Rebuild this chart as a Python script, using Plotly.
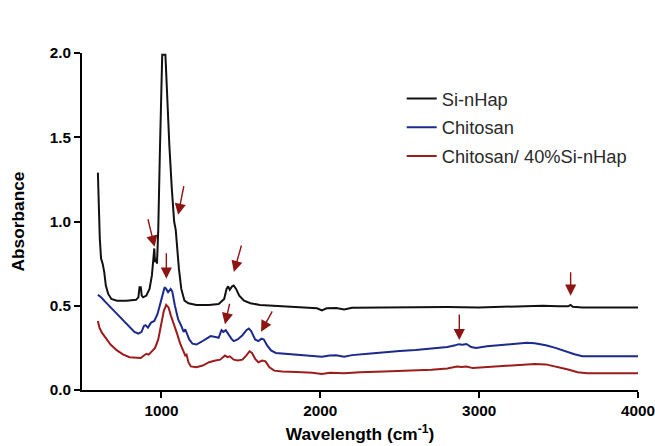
import plotly.graph_objects as go

# Si-nHap
si_x = [600, 605, 612, 620, 630, 640, 650, 665, 685, 720, 780, 840, 855, 862, 870, 876, 885, 905, 925, 940,
        950, 955, 960, 966, 972, 980, 990, 1000, 1005, 1025, 1035, 1050, 1065, 1080, 1090, 1100, 1110, 1125,
        1145, 1170, 1220, 1300, 1360, 1395, 1410, 1420, 1430, 1445, 1455, 1470, 1490, 1520, 1560, 1620, 1700,
        1800, 1900, 1980, 2010, 2040, 2100, 2150, 2200, 2400, 2600, 2800, 3000, 3100, 3250, 3400, 3500, 3560,
        3575, 3590, 3650, 3800, 4000]
si_y = [1.29, 1.10, 0.90, 0.78, 0.75, 0.70, 0.62, 0.57, 0.54, 0.53, 0.53, 0.535, 0.55, 0.61, 0.61, 0.56, 0.55,
        0.56, 0.60, 0.68, 0.82, 0.84, 0.76, 0.78, 0.75, 0.95, 1.40, 1.80, 1.99, 1.99, 1.75, 1.45, 1.20, 1.00,
        0.95, 0.82, 0.72, 0.60, 0.53, 0.515, 0.505, 0.505, 0.51, 0.54, 0.60, 0.615, 0.595, 0.615, 0.62, 0.60,
        0.56, 0.53, 0.515, 0.505, 0.50, 0.495, 0.49, 0.485, 0.472, 0.485, 0.487, 0.478, 0.488, 0.49, 0.49,
        0.492, 0.49, 0.493, 0.498, 0.50, 0.497, 0.497, 0.505, 0.494, 0.49, 0.489, 0.489]

# Chitosan
ch_x = [600, 620, 650, 680, 720, 760, 800, 830, 855, 875, 890, 900, 915, 935, 955, 975, 995, 1010, 1020, 1030,
        1042, 1058, 1068, 1085, 1105, 1125, 1140, 1150, 1160, 1175, 1195, 1220, 1250, 1280, 1310, 1340, 1360,
        1378, 1390, 1405, 1420, 1440, 1455, 1480, 1510, 1535, 1550, 1565, 1590, 1610, 1630, 1645, 1665, 1690,
        1720, 1780, 1850, 1950, 2010, 2060, 2100, 2150, 2200, 2300, 2400, 2500, 2600, 2700, 2800, 2850, 2870,
        2895, 2920, 2950, 2980, 3050, 3150, 3250, 3300, 3350, 3420, 3480, 3540, 3600, 3650, 3700, 4000]
ch_y = [0.565, 0.55, 0.52, 0.49, 0.45, 0.41, 0.37, 0.345, 0.335, 0.345, 0.38, 0.385, 0.37, 0.40, 0.41, 0.45,
        0.52, 0.58, 0.61, 0.60, 0.58, 0.60, 0.585, 0.50, 0.42, 0.38, 0.345, 0.36, 0.34, 0.30, 0.275, 0.27,
        0.285, 0.30, 0.32, 0.315, 0.31, 0.355, 0.345, 0.355, 0.33, 0.305, 0.29, 0.30, 0.325, 0.355, 0.365,
        0.35, 0.30, 0.29, 0.305, 0.30, 0.265, 0.235, 0.22, 0.215, 0.21, 0.205, 0.197, 0.205, 0.206, 0.198,
        0.207, 0.215, 0.225, 0.232, 0.237, 0.245, 0.255, 0.265, 0.272, 0.268, 0.273, 0.255, 0.25, 0.26, 0.267,
        0.277, 0.28, 0.277, 0.265, 0.25, 0.23, 0.212, 0.201, 0.20, 0.20]

# Chitosan/40%Si-nHap
cs_x = [600, 610, 625, 650, 680, 720, 760, 800, 840, 870, 890, 905, 920, 940, 960, 980, 1000, 1015, 1030, 1045,
        1060, 1080, 1100, 1120, 1140, 1150, 1158, 1170, 1185, 1220, 1260, 1300, 1340, 1370, 1400, 1415, 1430,
        1455, 1480, 1510, 1535, 1555, 1570, 1590, 1610, 1635, 1655, 1680, 1710, 1760, 1850, 1950, 2010, 2060,
        2150, 2250, 2400, 2550, 2700, 2800, 2860, 2890, 2920, 2960, 3050, 3150, 3250, 3350, 3420, 3480, 3560,
        3620, 3680, 4000]
cs_y = [0.41, 0.37, 0.34, 0.31, 0.27, 0.235, 0.21, 0.195, 0.19, 0.19, 0.205, 0.215, 0.21, 0.23, 0.25, 0.30,
        0.40, 0.47, 0.505, 0.49, 0.44, 0.39, 0.33, 0.27, 0.22, 0.205, 0.21, 0.165, 0.14, 0.135, 0.145, 0.165,
        0.175, 0.18, 0.205, 0.195, 0.20, 0.18, 0.175, 0.18, 0.205, 0.23, 0.22, 0.185, 0.165, 0.175, 0.17,
        0.135, 0.115, 0.11, 0.107, 0.103, 0.095, 0.103, 0.10, 0.106, 0.11, 0.115, 0.12, 0.128, 0.14, 0.137,
        0.14, 0.13, 0.135, 0.142, 0.15, 0.155, 0.152, 0.14, 0.122, 0.105, 0.10, 0.10]

# Arrow tips (x, y) and tail offsets in pixels
arrow_x = [1018, 1105, 957, 1031, 1456, 1400, 1627, 2875, 3576]
arrow_y = [2.05, 1.04, 0.85, 0.66, 0.70, 0.39, 0.345, 0.296, 0.56]
arrow_ax = [0, 6, -7, 0, 8, 5, 12, 0, 0]
arrow_ay = [-32, -30, -29, -27, -28, -22, -22, -27, -25]

names = ["Si-nHap", "Chitosan", "Chitosan/ 40%Si-nHap"]
colors = ["#111111", "#1c2a8c", "#9c1c1c"]
arrow_color = "#8e1414"
FONT = "Liberation Sans, Arial, sans-serif"

fig = go.Figure()
for i, (xs, ys) in enumerate([(si_x, si_y), (ch_x, ch_y), (cs_x, cs_y)]):
    fig.add_trace(go.Scatter(x=xs, y=ys, mode="lines", name=names[i], legendgroup=str(i),
                             line=dict(color=colors[i], width=2)))

for x, y, ax, ay in zip(arrow_x, arrow_y, arrow_ax, arrow_ay):
    fig.add_annotation(x=x, y=y, ax=ax, ay=ay, text="", showarrow=True,
                       arrowhead=2, arrowsize=1.6, arrowwidth=1.4, arrowcolor=arrow_color)

fig.update_layout(
    width=667, height=453,
    margin=dict(l=82, r=20, t=53, b=51),
    paper_bgcolor="white", plot_bgcolor="white",
    font=dict(family=FONT, color="black"),
    showlegend=True,
    legend=dict(x=0.575, y=0.9195, xanchor="left", yanchor="top",
                font=dict(size=18.3, color="#2a2a2a"), tracegroupgap=2,
                bgcolor="rgba(0,0,0,0)"),
    xaxis=dict(range=[500, 4000], tickvals=[1000, 2000, 3000, 4000],
               showline=True, linecolor="black", linewidth=2,
               ticks="outside", ticklen=6, tickwidth=2, tickcolor="black",
               showgrid=False, zeroline=False,
               tickfont=dict(size=15.3, weight="bold", family=FONT),
               title=dict(text="Wavelength (cm<sup>-1</sup>)", standoff=10,
                          font=dict(size=17.3, weight="bold", family=FONT))),
    yaxis=dict(range=[0, 2.0], tickvals=[0, 0.5, 1.0, 1.5, 2.0],
               ticktext=["0.0", "0.5", "1.0", "1.5", "2.0"],
               showline=True, linecolor="black", linewidth=2,
               ticks="outside", ticklen=6, tickwidth=2, tickcolor="black",
               showgrid=False, zeroline=False,
               tickfont=dict(size=15.3, weight="bold", family=FONT),
               title=dict(text="Absorbance", standoff=21,
                          font=dict(size=17.3, weight="bold", family=FONT))),
)

fig.write_html("out.html", config={"displayModeBar": False},
               post_script="document.body.style.margin='0';document.body.style.overflow='hidden';")
